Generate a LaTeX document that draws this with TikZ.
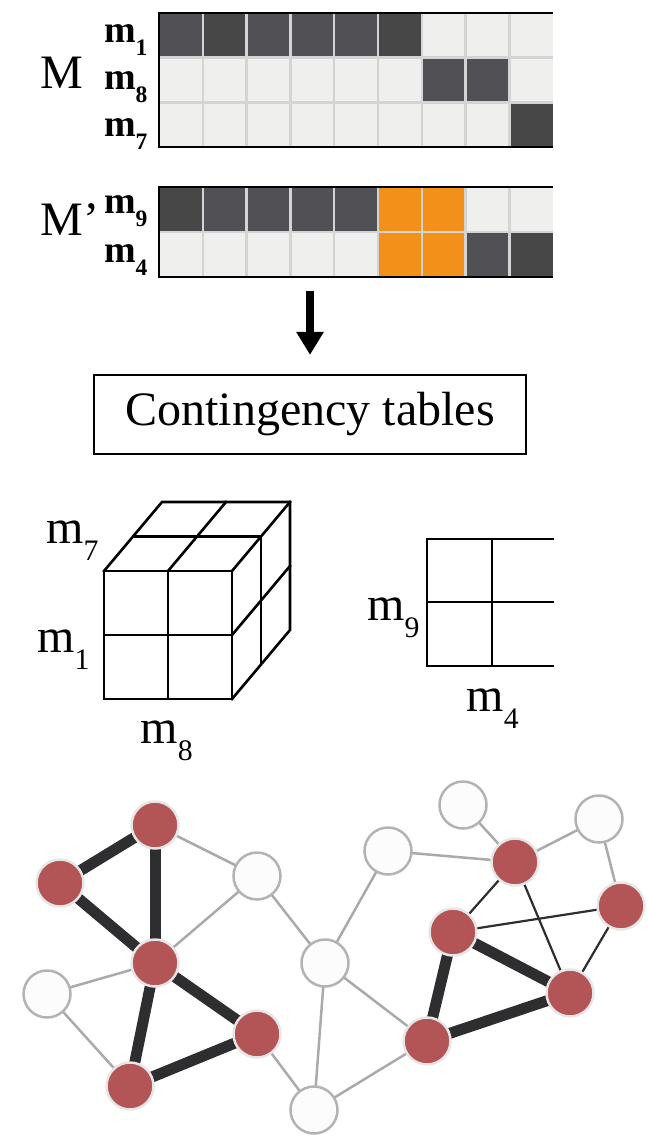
\documentclass[tikz,border=0pt]{standalone}
\usepackage{fontspec}
\setmainfont{Liberation Serif}
\usetikzlibrary{arrows.meta,backgrounds}

\definecolor{cellA}{HTML}{505055}
\definecolor{cellB}{HTML}{474747}
\definecolor{cellL}{HTML}{EFEFED}
\definecolor{cellO}{HTML}{F39019}
\definecolor{gridgrey}{HTML}{D4D4D4}
\definecolor{nodered}{HTML}{B35556}
\definecolor{nodewhite}{HTML}{FCFCFC}
\definecolor{ringlight}{HTML}{E6E6E6}
\definecolor{ringgrey}{HTML}{B3B3B3}
\definecolor{linkdark}{HTML}{2E2E30}
\definecolor{linkgrey}{HTML}{AAAAAA}

\newcommand{\msub}[1]{m\raisebox{-.36em}{\scalebox{.62}{#1}}}
\newcommand{\bigfont}{\fontsize{48}{52}\selectfont}
\newcommand{\rowfont}{\fontsize{38}{42}\selectfont\bfseries}

\begin{document}
\begin{tikzpicture}[x=1pt, y=-1pt,
  rednode/.style={circle, fill=nodered, draw=ringlight, line width=2.5pt, minimum size=47pt, inner sep=0pt},
  whitenode/.style={circle, fill=nodewhite, draw=ringgrey, line width=2.5pt, minimum size=47pt, inner sep=0pt},
  heavylink/.style={line width=11pt, draw=linkdark},
  thinlink/.style={line width=2.2pt, draw=linkdark},
  greylink/.style={line width=2.5pt, draw=linkgrey},
  gridline/.style={line width=2.5pt, draw=gridgrey},
  frameline/.style={line width=2.2pt},
  cubeline/.style={line width=2.6pt, line cap=rect},
  bigarrow/.style={-{Triangle[width=26pt,length=23pt]}, line width=8pt}]

\useasboundingbox (0,0) rectangle (648,1136);

% Matriz M
\foreach \c [count=\i from 0] in {cellA,cellB,cellA,cellA,cellA,cellB,cellL,cellL,cellL}
  \fill[\c] (159+\i*43.8,13) rectangle ++(43.8,44.67);
\foreach \c [count=\i from 0] in {cellL,cellL,cellL,cellL,cellL,cellL,cellA,cellA,cellL}
  \fill[\c] (159+\i*43.8,57.67) rectangle ++(43.8,44.67);
\foreach \c [count=\i from 0] in {cellL,cellL,cellL,cellL,cellL,cellL,cellL,cellL,cellB}
  \fill[\c] (159+\i*43.8,102.33) rectangle ++(43.8,44.67);
\foreach \i in {1,...,8}
  \draw[gridline] (159+\i*43.8,13) -- (159+\i*43.8,147);
\draw[gridline] (159,57.67) -- (553,57.67);
\draw[gridline] (159,102.33) -- (553,102.33);
\draw[frameline] (553.2,13) -- (159,13) -- (159,147) -- (553.2,147);

\node[anchor=base west, font=\bigfont] (lblM) at (37,88) {M};
\node[anchor=base east, font=\rowfont] (rowa) at (151,42) {\msub{1}};
\node[anchor=base east, font=\rowfont] (rowb) at (151,89) {\msub{8}};
\node[anchor=base east, font=\rowfont] (rowc) at (151,136) {\msub{7}};

% Matriz M'
\foreach \c [count=\i from 0] in {cellB,cellA,cellA,cellA,cellA,cellO,cellO,cellL,cellL}
  \fill[\c] (159+\i*43.8,187) rectangle ++(43.8,45);
\foreach \c [count=\i from 0] in {cellL,cellL,cellL,cellL,cellL,cellO,cellO,cellA,cellB}
  \fill[\c] (159+\i*43.8,232) rectangle ++(43.8,45);
\foreach \i in {1,...,8}
  \draw[gridline] (159+\i*43.8,187) -- (159+\i*43.8,277);
\draw[gridline] (159,232) -- (553,232);
\draw[frameline] (553.2,187) -- (159,187) -- (159,277) -- (553.2,277);
\coordinate (mpbase) at (310,277);

\node[anchor=base west, font=\bigfont] (lblMp) at (37,235) {M’};
\node[anchor=base east, font=\rowfont] (rowd) at (151,213) {\msub{9}};
\node[anchor=base east, font=\rowfont] (rowe) at (151,262) {\msub{4}};

% Tabelas de contingencia
\node[draw, line width=2.2pt, minimum width=432pt, minimum height=79pt, inner sep=0pt, font=\bigfont] (ctab) at (310,414.5) {Contingency tables};
\draw[bigarrow, shorten <=14pt, shorten >=19pt] (mpbase) -- (ctab.north);

% Cubo 2x2x2
\draw[cubeline] (104,571) rectangle (232,699);
\draw[cubeline] (168,571) -- (168,699);
\draw[cubeline] (104,635) -- (232,635);
\draw[cubeline] (104,571) -- (162,502) -- (290,502) -- (290,630) -- (232,699);
\draw[cubeline] (232,571) -- (290,502);
\draw[cubeline] (133,536.5) -- (261,536.5) -- (261,664.5);
\draw[cubeline] (168,571) -- (226,502);
\draw[cubeline] (232,635) -- (290,566);

\node[anchor=base east, font=\bigfont] (cubez) at (102,543) {\msub{7}};
\node[anchor=base east, font=\bigfont] (cubey) at (93,652) {\msub{1}};
\node[anchor=base west, font=\bigfont] (cubex) at (137,743) {\msub{8}};

% Tabela 2x2
\draw[cubeline] (553,539) -- (427,539) -- (427,666) -- (553,666);
\draw[cubeline] (492,539) -- (492,666);
\draw[cubeline] (427,602) -- (553,602);

\node[anchor=base east, font=\bigfont] (tabley) at (423,620) {\msub{9}};
\node[anchor=base west, font=\bigfont] (tablex) at (463,711) {\msub{4}};

% Rede
\node[rednode] (A) at (155,825) {};
\node[rednode] (B) at (60,883) {};
\node[rednode] (C) at (155,963) {};
\node[whitenode] (D) at (257,876) {};
\node[whitenode] (E) at (47,994) {};
\node[rednode] (F) at (257,1034) {};
\node[rednode] (G) at (130,1086) {};
\node[whitenode] (H) at (325,963) {};
\node[whitenode] (I) at (314,1110) {};
\node[whitenode] (J) at (463,805) {};
\node[whitenode] (K) at (599,819) {};
\node[whitenode] (L) at (388,851) {};
\node[rednode] (N) at (515,862) {};
\node[rednode] (O) at (621,906) {};
\node[rednode] (P) at (453,932) {};
\node[rednode] (R) at (570,993) {};
\node[rednode] (S) at (427,1041) {};

\begin{pgfonlayer}{background}
  \foreach \a/\b in {A/D,D/C,D/H,C/E,E/G,F/I,H/I,H/S,I/S,L/H,L/N,J/N,N/K,K/O}
    \draw[greylink] (\a.center) -- (\b.center);
  \foreach \a/\b in {N/P,N/R,P/O,O/R}
    \draw[thinlink] (\a.center) -- (\b.center);
  \foreach \a/\b in {A/B,A/C,B/C,C/F,C/G,F/G,P/S,P/R,S/R}
    \draw[heavylink] (\a.center) -- (\b.center);
\end{pgfonlayer}

\end{tikzpicture}
\end{document}
